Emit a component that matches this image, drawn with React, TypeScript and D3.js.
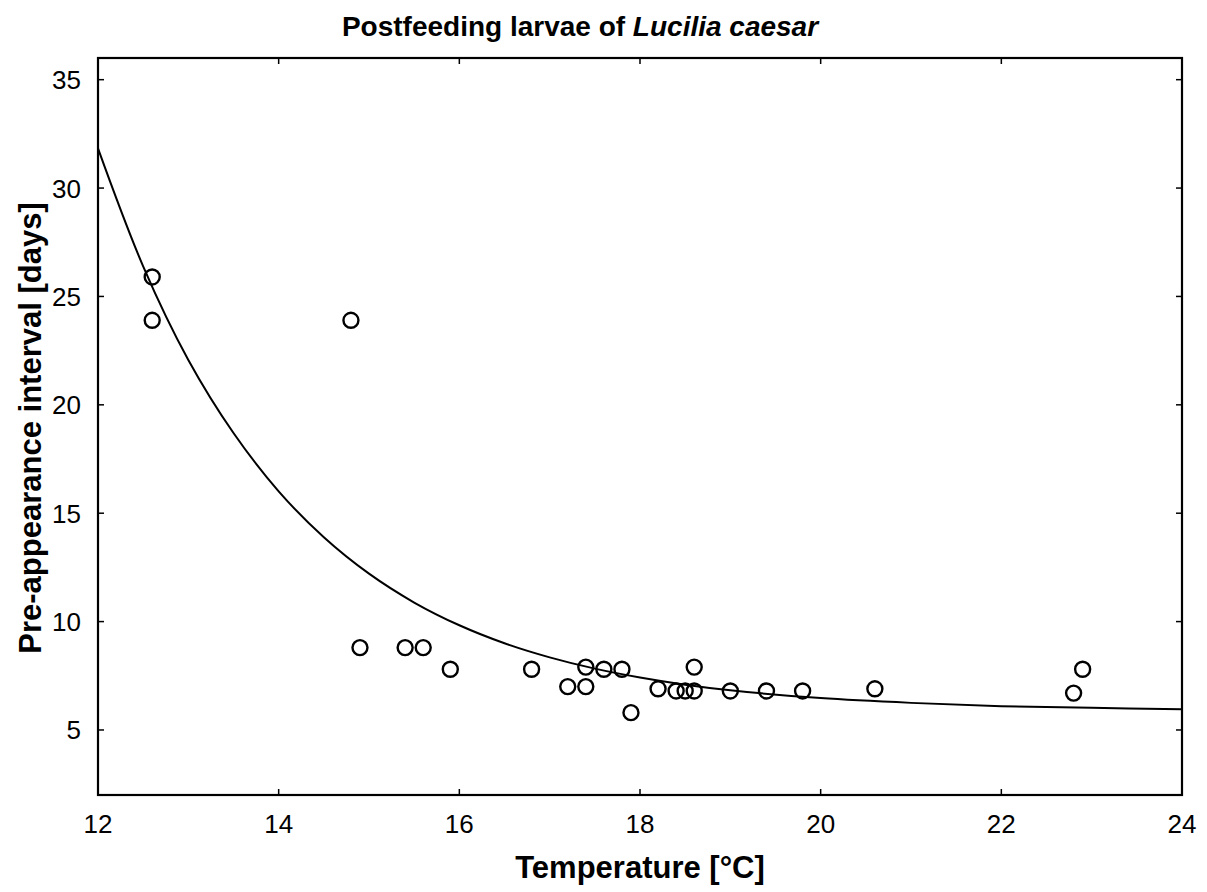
import React from "react";
import * as d3 from "d3";

// Observations: temperature [°C] and pre-appearance interval [days]
const obsTemp = [12.6, 12.6, 14.8, 14.9, 15.4, 15.6, 15.9, 16.8, 17.2, 17.4, 17.4, 17.6, 17.8, 17.9, 18.2, 18.4, 18.5, 18.6, 18.6, 19.0, 19.4, 19.8, 20.6, 22.8, 22.9];
const obsDays = [25.9, 23.9, 23.9, 8.8, 8.8, 8.8, 7.8, 7.8, 7.0, 7.0, 7.9, 7.8, 7.8, 5.8, 6.9, 6.8, 6.8, 6.8, 7.9, 6.8, 6.8, 6.8, 6.9, 6.7, 7.8];

// Fitted curve
const fitTemp = [12, 12.5, 13, 13.5, 14, 14.5, 15, 15.5, 16, 16.5, 17, 17.5, 18, 18.5, 19, 20, 21, 22, 23, 24];
const fitDays = [31.83, 26.39, 22.07, 18.7, 16.01, 13.89, 12.21, 10.88, 9.83, 9.0, 8.35, 7.83, 7.42, 7.09, 6.83, 6.47, 6.25, 6.1, 6.02, 5.96];

const xTicks = [12, 14, 16, 18, 20, 22, 24];
const yTicks = [5, 10, 15, 20, 25, 30, 35];

const W = 1207, H = 892;
const L = 98, R = 1182, T = 58, B = 795;

export default function App() {
  const x = d3.scaleLinear().domain([12, 24]).range([L, R]);
  const y = d3.scaleLinear().domain([2, 36]).range([B, T]);
  const line = d3
    .line<number>()
    .x((_, i) => x(fitTemp[i]))
    .y((d) => y(d))
    .curve(d3.curveCatmullRom.alpha(0.5));
  const font = "Arial, 'Liberation Sans', sans-serif";
  const tl = 6;
  return (
    <svg width={W} height={H} style={{ position: "absolute", left: 0, top: 0, background: "#fff" }} fontFamily={font}>
      <text x={580} y={36} textAnchor="middle" fontSize={28} fontWeight="bold" fill="#000">
        Postfeeding larvae of <tspan fontStyle="italic">Lucilia caesar</tspan>
      </text>
      <rect x={L} y={T} width={R - L} height={B - T} fill="none" stroke="#000" strokeWidth={2.2} />
      {xTicks.map((t) => (
        <g key={"x" + t}>
          <line x1={x(t)} x2={x(t)} y1={B} y2={B - tl} stroke="#000" strokeWidth={1.5} />
          <line x1={x(t)} x2={x(t)} y1={T} y2={T + tl} stroke="#000" strokeWidth={1.5} />
          <text x={x(t)} y={833} textAnchor="middle" fontSize={26} fill="#000">
            {t}
          </text>
        </g>
      ))}
      {yTicks.map((t) => (
        <g key={"y" + t}>
          <line x1={L} x2={L + tl} y1={y(t)} y2={y(t)} stroke="#000" strokeWidth={1.5} />
          <line x1={R} x2={R - tl} y1={y(t)} y2={y(t)} stroke="#000" strokeWidth={1.5} />
          <text x={81} y={y(t) + 9.5} textAnchor="end" fontSize={26} fill="#000">
            {t}
          </text>
        </g>
      ))}
      <path d={line(fitDays) || ""} fill="none" stroke="#000" strokeWidth={2} />
      {obsTemp.map((t, i) => (
        <circle key={i} cx={x(t)} cy={y(obsDays[i])} r={7.5} fill="none" stroke="#000" strokeWidth={2.4} />
      ))}
      <text x={640} y={878} textAnchor="middle" fontSize={31} fontWeight="bold" fill="#000">
        Temperature [°C]
      </text>
      <text
        transform={`translate(41, 428) rotate(-90)`}
        textAnchor="middle"
        fontSize={31}
        fontWeight="bold"
        fill="#000"
      >
        Pre-appearance interval [days]
      </text>
    </svg>
  );
}
